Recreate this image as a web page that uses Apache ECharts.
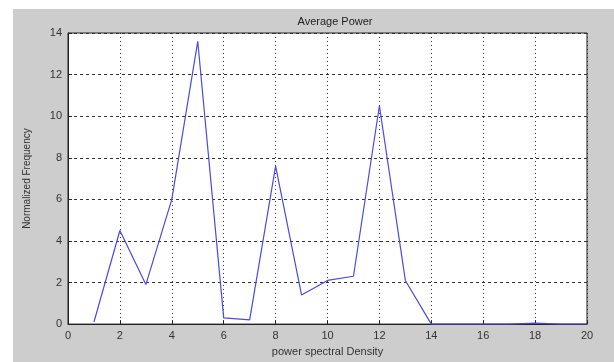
<!DOCTYPE html>
<html>
<head>
<meta charset="utf-8">
<script src="https://cdn.jsdelivr.net/npm/echarts@6/dist/echarts.min.js"></script>
<style>
  html, body { margin: 0; padding: 0; background: #fff; }
  #chart { width: 614px; height: 362px; }
</style>
</head>
<body>
<div id="chart"></div>
<script>
// values
const xValues = [1, 2, 3, 4, 5, 6, 7, 8, 9, 10, 11, 12, 13, 14, 15, 16, 17, 18, 19, 20]
const powerValues = [0.1, 4.5, 1.9, 6.0, 13.6, 0.3, 0.2, 7.6, 1.4, 2.1, 2.3, 10.5, 2.1, 0, 0, 0, 0, 0.05, 0, 0]

const chart = echarts.init(document.getElementById('chart'))

const labelFont = { fontFamily: 'Liberation Sans', fontSize: 11, color: '#333' }

chart.setOption({
  animation: false,
  graphic: [
    {
      type: 'rect',
      z: -10,
      shape: { x: 13, y: 9, width: 601, height: 353 },
      style: { fill: '#cdcdcd' },
    },
  ],
  title: {
    text: 'Average Power',
    left: 330,
    top: 11,
    textAlign: 'center',
    textStyle: { fontFamily: 'Liberation Sans', fontSize: 11, fontWeight: 'normal', color: '#222' },
  },
  grid: {
    left: 68,
    right: 27,
    top: 33,
    bottom: 29,
    show: true,
    backgroundColor: '#fff',
    borderColor: '#222',
    borderWidth: 1,
  },
  xAxis: {
    type: 'value',
    min: 0,
    max: 20,
    interval: 2,
    name: 'power spectral Density',
    nameLocation: 'middle',
    nameGap: 17,
    nameTextStyle: labelFont,
    axisLine: { lineStyle: { color: '#222' } },
    axisTick: { inside: true, length: 4, lineStyle: { color: '#222' } },
    axisLabel: { ...labelFont, margin: 6 },
    splitLine: { show: true, lineStyle: { color: '#333', type: [1, 3], width: 1 } },
  },
  yAxis: {
    type: 'value',
    min: 0,
    max: 14,
    interval: 2,
    name: 'Normalized Frequency',
    nameLocation: 'middle',
    nameGap: 36,
    nameTextStyle: { ...labelFont, fontSize: 10 },
    axisLine: { lineStyle: { color: '#222' } },
    axisTick: { inside: true, length: 4, lineStyle: { color: '#222' } },
    axisLabel: { ...labelFont, margin: 6 },
    splitLine: { show: true, lineStyle: { color: '#333', type: [3, 3], width: 1 } },
  },
  series: [
    {
      type: 'line',
      data: xValues.map((x, i) => [x, powerValues[i]]),
      symbol: 'none',
      lineStyle: { color: '#4a4ae8', width: 1.2 },
    },
  ],
})
</script>
</body>
</html>
